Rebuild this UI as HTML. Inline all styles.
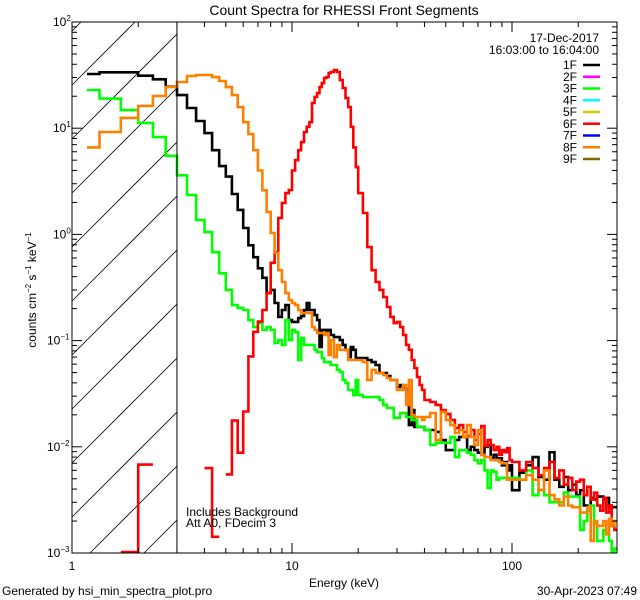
<!DOCTYPE html>
<html><head><meta charset="utf-8"><style>
html,body{margin:0;padding:0;background:#fff;width:640px;height:600px;overflow:hidden;}
svg{display:block;font-family:"Liberation Sans",sans-serif;}
</style></head><body>
<svg id="chart" width="640" height="600" viewBox="0 0 640 600" xmlns="http://www.w3.org/2000/svg">
<rect x="0" y="0" width="640" height="600" fill="#fff"/>
<defs><clipPath id="plotclip"><rect x="72" y="22" width="545" height="531"/></clipPath></defs>
<text x="344" y="15" font-size="14" text-anchor="middle">Count Spectra for RHESSI Front Segments</text>
<g id="hatch"></g>
<g id="series" clip-path="url(#plotclip)"></g>
<g id="axes"></g>
<text x="344" y="587" font-size="12" text-anchor="middle">Energy (keV)</text>
<text transform="translate(36,290) rotate(-90)" font-size="12" text-anchor="middle">counts cm<tspan dy="-5" font-size="8">−2</tspan><tspan dy="5"> s</tspan><tspan dy="-5" font-size="8">−1</tspan><tspan dy="5"> keV</tspan><tspan dy="-5" font-size="8">−1</tspan></text>
<text x="186" y="516" font-size="12">Includes Background</text>
<text x="186" y="527" font-size="12">Att A0, FDecim 3</text>
<text x="2" y="595" font-size="12">Generated by hsi_min_spectra_plot.pro</text>
<text x="637" y="595" font-size="12" text-anchor="end">30-Apr-2023 07:49</text>
<text x="599" y="42" font-size="12" text-anchor="end">17-Dec-2017</text>
<text x="599" y="54" font-size="12" text-anchor="end">16:03:00 to 16:04:00</text>
<g id="legend"></g>
</svg>
<script>
const lowEdges = [1.17, 1.333, 1.667, 2, 2.333, 2.667, 3];
const detectorNames = ["1F","2F","3F","4F","5F","6F","7F","8F","9F"];
const detectorColors = ["#000000","#ff00ff","#00ff00","#00ffff","#cccc00","#ff0000","#0000ff","#ff8000","#806a00"];
const xTickLabels = ["1","10","100"];
const yTickExps = ["2","1","0","−1","−2","−3"];

const black1F = [32.4,33.6,33.6,31.2,28.9,24.6,
20.5,15.5,11.7,9.0,6.2,4.4,3.5,2.4,1.7,1.15,0.79,0.61,0.48,0.39,0.28,0.30,0.226,0.167,0.194,0.216,0.156,0.150,0.150,0.163,0.170,0.194,0.226,0.194,0.194,0.174,0.156,0.087,0.126,0.126,0.118,0.126,
0.113,0.108,0.108,0.101,0.091,0.082,0.070,0.087,0.082,0.0685,
0.0685,0.0685,0.0656,0.0628,0.0589,0.0495,0.0495,0.0464,0.0426,0.0426,0.0366,0.0382,0.0358,0.0343,0.016,0.0222,0.0154,0.0154,0.0154,0.0154,
0.0144,0.0144,0.0138,0.0116,0.0093,0.0093,0.0116,0.0124,0.0124,0.0093,0.0100,0.0093,0.0088,0.0084,0.0100,0.0104,0.0078,0.0084,0.0075,0.0078,0.0067,0.0072,0.0060,0.0067,
0.0039,0.0057,0.0067,0.0080,0.0052,0.0049,0.0089,0.0049,0.0042,0.0052,0.0039,0.0044,0.0035,0.0039,0.0028,0.0027,0.0033,0.0032,0.0034,0.0034,0.0032,0.0033,0.0028,0.0027,0.0027];

const green3F = [22.9,19.0,14.8,11.2,8.25,5.5,
3.6,2.35,1.37,1.05,0.68,0.43,0.30,0.216,0.203,0.194,0.156,0.134,0.146,0.126,0.134,0.126,0.095,0.101,0.091,0.156,0.101,0.126,0.120,0.0656,0.106,0.091,0.091,0.091,0.091,0.082,0.078,0.078,0.0685,0.0628,0.0628,0.0628,
0.0589,0.0589,0.053,0.0506,0.0426,0.040,0.0343,0.0343,0.0307,0.0426,
0.0307,0.0294,0.0294,0.0294,0.0294,0.0276,0.0248,0.0232,0.0232,0.0187,0.0187,0.0208,0.0208,0.0191,0.0191,0.0179,0.0179,0.0154,0.0154,0.0154,
0.0144,0.0104,0.0109,0.0109,0.0109,0.0124,0.0080,0.0093,0.0093,0.0088,0.0084,0.0075,0.0070,0.0075,0.0060,0.0041,0.0060,0.0058,0.0049,0.0051,0.0051,0.0051,0.0051,0.0049,
0.0051,0.0049,0.0060,0.0035,0.0039,0.0035,0.0030,0.0030,0.0030,0.0037,0.0034,0.0034,0.0034,0.00165,0.0020,0.0025,0.0028,0.0019,0.0013,0.0013,0.00165,0.0015,0.0013,0.0010,0.0011];

const red6F = [null,null,0.00102,0.0068,null,null,
null,null,null,0.0063,0.00142,null,0.0055,0.0177,0.0088,0.0215,0.071,0.121,0.151,0.194,0.28,0.54,0.68,1.43,1.98,2.45,2.62,4.0,5.0,6.2,7.4,9.2,10.3,11.4,17.3,19.7,21.4,24.4,26.6,29.7,30.3,33.1,
33.8,35.3,33.8,28.4,23.9,19.2,15.8,10.3,6.6,4.3,
2.45,1.59,0.76,0.46,0.356,0.30,0.257,0.207,0.167,0.146,0.150,0.134,0.113,0.091,0.082,0.0656,0.0552,0.0454,0.0382,0.0343,
0.0276,0.0264,0.0248,0.0222,0.0204,0.0179,0.0150,0.016,0.0138,0.0126,0.0144,0.0116,0.0132,0.0157,0.0102,0.0116,0.0104,0.0093,0.0100,0.0084,0.0093,0.0089,0.0097,0.0075,
0.0072,0.0060,0.0072,0.0063,0.0054,0.0063,0.0072,0.0051,0.0060,0.0044,0.0051,0.0039,0.0047,0.0049,0.0035,0.0042,0.0032,0.0037,0.0028,0.0025,0.0033,0.0024,0.0028,0.0018,0.00165];

const orange8F = [6.6,9.2,12.5,16.2,20.1,24.4,
27.2,31.0,31.7,31.7,30.3,27.8,24.4,20.5,15.8,11.4,8.8,6.2,4.0,2.6,1.63,1.03,0.67,0.46,0.356,0.28,0.241,0.226,0.216,0.194,0.182,0.182,0.182,0.182,0.134,0.126,0.118,0.118,0.118,0.113,0.118,0.073,
0.101,0.070,0.091,0.082,0.082,0.082,0.0656,0.0656,0.0656,0.0656,
0.0656,0.0628,0.0426,0.053,0.0495,0.0495,0.0474,0.0444,0.0426,0.0426,0.0343,0.0343,0.0382,0.0248,0.0426,0.0199,0.0191,0.0191,0.0191,0.0179,
0.0191,0.0208,0.0116,0.0213,0.0179,0.0160,0.0135,0.0144,0.0124,0.0160,0.0124,0.0104,0.0144,0.0084,0.0080,0.0080,0.0075,0.0075,0.0075,0.0072,0.0070,0.0070,0.0049,0.0049,
0.0049,0.0049,0.0054,0.0049,0.0039,0.0060,0.0035,0.0032,0.0028,0.0034,0.0028,0.0027,0.0027,0.0024,0.0024,0.0027,0.0013,0.0020,0.0018,0.0018,0.0020,0.0015,0.0021,0.0018,0.0020];

// energy bin edges: low bins, then 1/3 keV to 15, 0.5 keV to 20, 1 keV to 40, 2.5 keV to 100, 8 keV to 300
const edges = lowEdges.slice();
for (let k = 1; k <= 36; k++) edges.push(3 + k / 3);
for (let k = 1; k <= 10; k++) edges.push(15 + k * 0.5);
for (let k = 1; k <= 20; k++) edges.push(20 + k);
for (let k = 1; k <= 24; k++) edges.push(40 + k * 2.5);
for (let k = 1; k <= 25; k++) edges.push(100 + k * 8);

const X0 = 72, X1 = 617, Y0 = 22, Y1 = 553;
const XDEC = 220, YDEC = 106.2;
function xs(e) { return X0 + XDEC * Math.log10(e); }
function ys(v) { return Y0 + YDEC * (2 - Math.log10(v)); }

const NS = "http://www.w3.org/2000/svg";
function mk(tag, attrs, parent) {
  const el = document.createElementNS(NS, tag);
  for (const k in attrs) el.setAttribute(k, attrs[k]);
  parent.appendChild(el);
  return el;
}

// hatch: lines y = c - (x - 72), clipped analytically to [72, x3] x [Y0, Y1]
const hatch = document.getElementById('hatch');
const xh = xs(3);
for (let c = 31; c < Y1 + (xh - 72); c += 54) {
  let xa = 72, ya = c;
  if (ya > Y1) { xa = 72 + (c - Y1); ya = Y1; }
  let xb = xh, yb = c - (xh - 72);
  if (yb < Y0) { xb = 72 + (c - Y0); yb = Y0; }
  if (xa >= xb) continue;
  const ln = mk('line', {x1: xa, y1: ya, x2: xb, y2: yb, stroke: '#000', 'stroke-width': 0.8}, hatch);
  
  
}
const thr = mk('line', {x1: xh, y1: Y0, x2: xh, y2: Y1, stroke: '#000', 'stroke-width': 1}, document.getElementById('axes'));



// series
const seriesG = document.getElementById('series');
function drawSeries(vals, color, name) {
  let d = '', pen = false;
  for (let i = 0; i < vals.length; i++) {
    const v = vals[i];
    if (v === null || v <= 0) { pen = false; continue; }
    const y = Math.min(ys(v), Y1 + 2).toFixed(1);
    const xa = xs(edges[i]).toFixed(1), xb = xs(edges[i + 1]).toFixed(1);
    d += (pen ? 'L' : 'M') + xa + ',' + y + 'L' + xb + ',' + y;
    pen = true;
  }
  const p = mk('path', {d: d, fill: 'none', stroke: color, 'stroke-width': 2.6, 'stroke-linejoin': 'miter'}, seriesG);
  
  
}
drawSeries(black1F, '#000000', 'series-1f');
drawSeries(green3F, '#00ff00', 'series-3f');
drawSeries(red6F, '#ff0000', 'series-6f');
drawSeries(orange8F, '#ff8000', 'series-8f');

// axes
const ax = document.getElementById('axes');
const frame = mk('rect', {x: X0, y: Y0, width: X1 - X0, height: Y1 - Y0, fill: 'none', stroke: '#000', 'stroke-width': 1}, ax);


for (let dec = 0; dec <= 2; dec++) {
  for (let m = 1; m <= 9; m++) {
    const e = m * Math.pow(10, dec);
    if (e > 300) break;
    const x = xs(e), L = m === 1 ? 10 : 5;
    mk('line', {x1: x, y1: Y1, x2: x, y2: Y1 - L, stroke: '#000', 'stroke-width': 1}, ax);
    mk('line', {x1: x, y1: Y0, x2: x, y2: Y0 + L, stroke: '#000', 'stroke-width': 1}, ax);
  }
  const t = mk('text', {x: xs(Math.pow(10, dec)), y: 570, 'font-size': 12, 'text-anchor': 'middle'}, ax);
  t.textContent = xTickLabels[dec];
  
  
}
for (let p = -3; p <= 2; p++) {
  for (let m = 1; m <= 9; m++) {
    const v = m * Math.pow(10, p);
    if (v > 100) break;
    const y = ys(v), L = m === 1 ? 10 : 5;
    mk('line', {x1: X0, y1: y, x2: X0 + L, y2: y, stroke: '#000', 'stroke-width': 1}, ax);
    mk('line', {x1: X1, y1: y, x2: X1 - L, y2: y, stroke: '#000', 'stroke-width': 1}, ax);
  }
  const t = mk('text', {x: 53, y: ys(Math.pow(10, p)) + 4, 'font-size': 12}, ax);
  
  
  t.textContent = '10';
  const s = mk('tspan', {dy: -5, 'font-size': 8}, t);
  s.textContent = yTickExps[2 - p];
  if (yTickExps[2 - p].length > 1) t.setAttribute('x', 47);
}

// legend
const lg = document.getElementById('legend');
for (let i = 0; i < detectorNames.length; i++) {
  const y = 65 + i * 11.75;
  const t = mk('text', {x: 577, y: y + 4, 'font-size': 12, 'text-anchor': 'end'}, lg);
  t.textContent = detectorNames[i];
  
  
  const l = mk('line', {x1: 583, y1: y, x2: 600, y2: y, stroke: detectorColors[i], 'stroke-width': 2.5}, lg);
  
  
}
</script>
</body></html>
